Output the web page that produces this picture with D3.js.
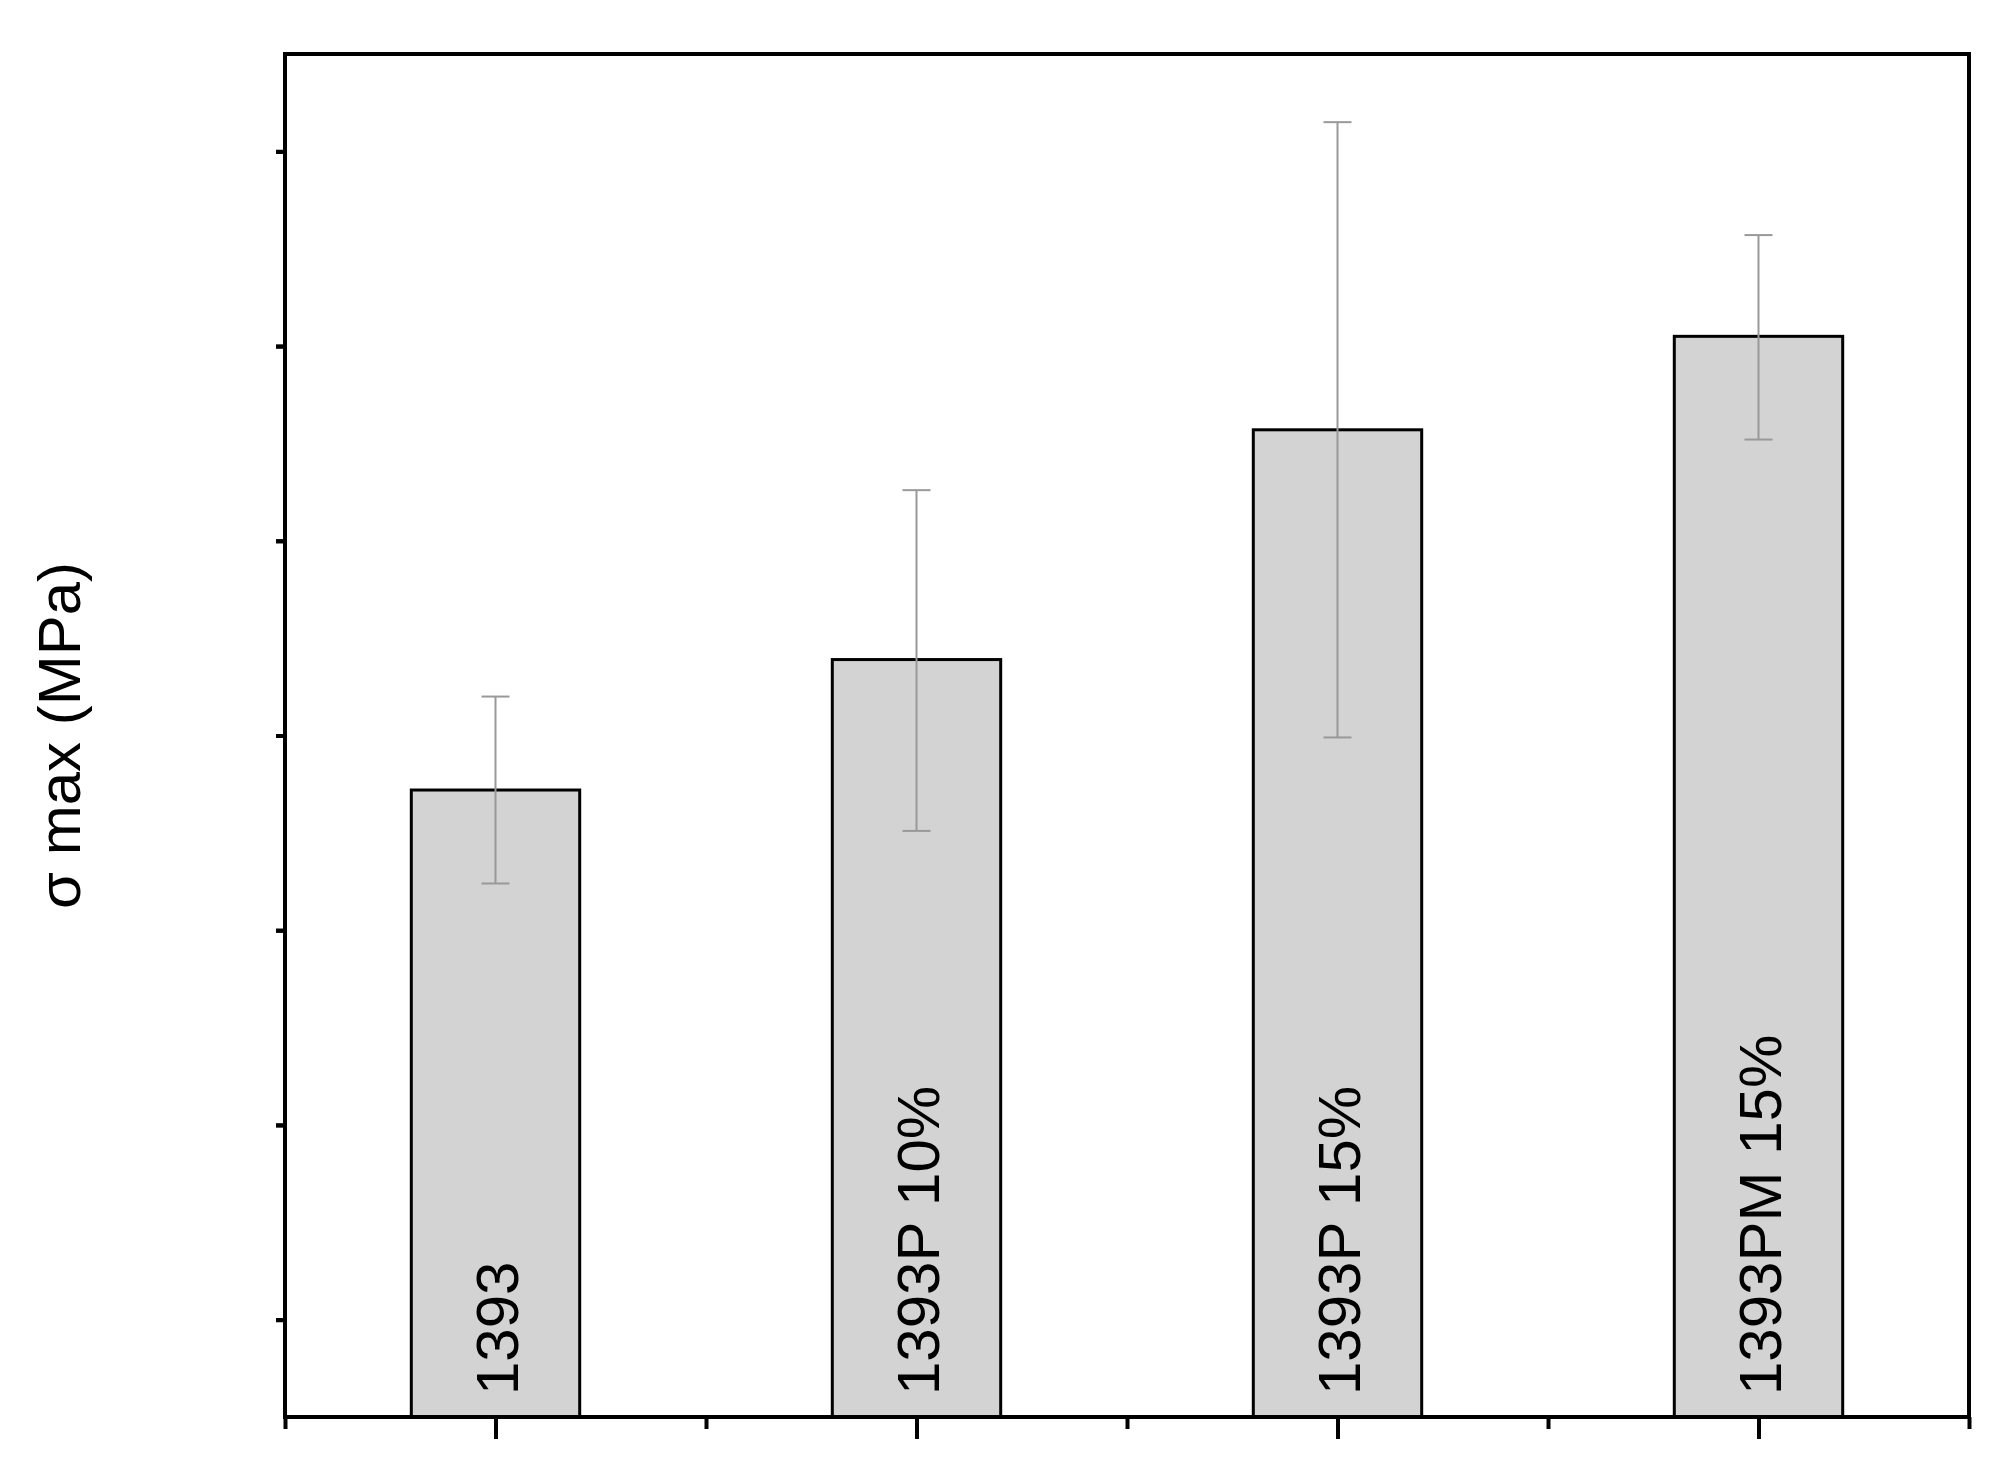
<!DOCTYPE html>
<html><head><meta charset="utf-8">
<script src="https://cdn.jsdelivr.net/npm/d3@7"></script>
<style>body{margin:0;background:#fff}text{font-family:"Liberation Sans",Arial,sans-serif}</style>
</head><body>
<svg id="chart" width="2004" height="1469"></svg>
<script>
// data
const categories = ['1393', '1393P 10%', '1393P 15%', '1393PM 15%']
const values = [1.61, 1.945, 2.535, 2.775]
const errLow = [1.37, 1.505, 1.745, 2.51]
const errHigh = [1.85, 2.38, 3.325, 3.035]
const yTicks = [0, 0.5, 1, 1.5, 2, 2.5, 3, 3.5]

const svg = d3.select('#chart')
const m = {left: 285, right: 1969, top: 54, bottom: 1417}
const x = d3.scaleLinear().domain([0.5, 4.5]).range([m.left, m.right])
const y = d3.scaleLinear().domain([0, 3.5]).range([m.bottom, m.top])
const barW = x(1.2) - x(0.8)

// bars
svg.selectAll('rect.bar').data(values).join('rect')
    .attr('x', (d, i) => x(i + 1) - barW / 2).attr('width', barW)
    .attr('y', d => y(d)).attr('height', d => y(0) - y(d))
    .attr('fill', '#d3d3d3').attr('stroke', '#000').attr('stroke-width', 3)

// error bars
const eb = svg.selectAll('g.err').data(values).join('g').attr('stroke', '#999').attr('stroke-width', 2)
eb.append('line').attr('x1', (d, i) => x(i + 1)).attr('x2', (d, i) => x(i + 1))
    .attr('y1', (d, i) => y(errLow[i])).attr('y2', (d, i) => y(errHigh[i]))
eb.append('line').attr('x1', (d, i) => x(i + 1) - 14).attr('x2', (d, i) => x(i + 1) + 14)
    .attr('y1', (d, i) => y(errHigh[i])).attr('y2', (d, i) => y(errHigh[i]))
eb.append('line').attr('x1', (d, i) => x(i + 1) - 14).attr('x2', (d, i) => x(i + 1) + 14)
    .attr('y1', (d, i) => y(errLow[i])).attr('y2', (d, i) => y(errLow[i]))

// bar labels, rotated
svg.selectAll('text.lab').data(categories).join('text')
    .attr('transform', (d, i) => `translate(${x(i + 1) + 22},${y(0) - 22}) rotate(-90)`)
    .attr('font-size', 60).text(d => d)

// frame
svg.append('rect').attr('x', m.left).attr('y', m.top)
    .attr('width', m.right - m.left).attr('height', m.bottom - m.top)
    .attr('fill', 'none').attr('stroke', '#000').attr('stroke-width', 4)

// y axis
const yAxis = svg.append('g').attr('transform', `translate(${m.left},0)`)
    .call(d3.axisLeft(y).tickValues(yTicks).tickFormat(d3.format('.1f')).tickSize(16).tickPadding(10))
yAxis.call(d3.axisLeft(y).tickValues(d3.range(0.25, 3.5, 0.5)).tickFormat('').tickSize(9))
svg.selectAll('g').filter(function() { return this.parentNode === svg.node() })
yAxis.selectAll('.domain').remove()
yAxis.selectAll('line').attr('stroke-width', 4)
yAxis.selectAll('text').attr('font-size', 46).attr('fill', '#000')

// y minor ticks need their own group since call replaces
const yMinor = svg.append('g').attr('transform', `translate(${m.left},0)`)
    .call(d3.axisLeft(y).tickValues(d3.range(0.25, 3.5, 0.5)).tickFormat('').tickSize(9))
yMinor.select('.domain').remove()
yMinor.selectAll('line').attr('stroke-width', 4)

// x axis
const xAxis = svg.append('g').attr('transform', `translate(0,${m.bottom})`)
    .call(d3.axisBottom(x).tickValues([1, 2, 3, 4]).tickFormat('').tickSize(22))
xAxis.select('.domain').remove()
xAxis.selectAll('line').attr('stroke-width', 4)
const xMinor = svg.append('g').attr('transform', `translate(0,${m.bottom})`)
    .call(d3.axisBottom(x).tickValues([0.5, 1.5, 2.5, 3.5, 4.5]).tickFormat('').tickSize(12))
xMinor.select('.domain').remove()
xMinor.selectAll('line').attr('stroke-width', 4)

// y label
svg.append('text').attr('transform', `translate(80,${(m.top + m.bottom) / 2}) rotate(-90)`)
    .attr('text-anchor', 'middle').attr('font-size', 60).text('σ max (MPa)')
</script>
</body></html>
